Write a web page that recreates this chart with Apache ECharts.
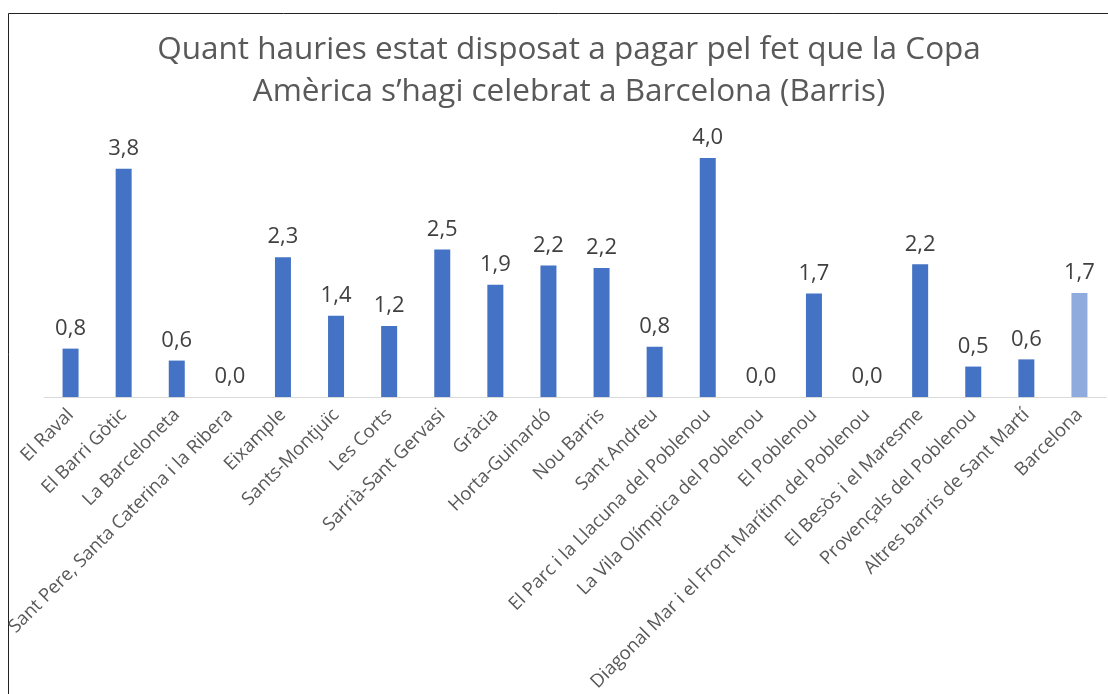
<!DOCTYPE html>
<html>
<head>
<meta charset="utf-8">
<script src="https://cdn.jsdelivr.net/npm/echarts@6/dist/echarts.min.js"></script>
<style>
html,body{margin:0;padding:0;background:#fff;}
#main{width:1108px;height:694px;}
</style>
</head>
<body>
<div id="main"></div>
<script>
var barris=["El Raval","El Barri Gòtic","La Barceloneta","Sant Pere, Santa Caterina i la Ribera","Eixample","Sants-Montjuïc","Les Corts","Sarrià-Sant Gervasi","Gràcia","Horta-Guinardó","Nou Barris","Sant Andreu","El Parc i la Llacuna del Poblenou","La Vila Olímpica del Poblenou","El Poblenou","Diagonal Mar i el Front Marítim del Poblenou","El Besòs i el Maresme","Provençals del Poblenou","Altres barris de Sant Martí","Barcelona"];
var valors=[0.81,3.82,0.61,0,2.34,1.36,1.19,2.47,1.88,2.2,2.16,0.84,4.0,0,1.73,0,2.22,0.51,0.63,1.74];

var seriesData=[];
for(var i=0;i<valors.length;i++){
    var item={value:valors[i]};
    if(barris[i]=="Barcelona"){
        item.itemStyle={color:'#8FAADC'};
    }
    seriesData.push(item);
}

var myChart=echarts.init(document.getElementById('main'));
var option={
    backgroundColor:'#fff',
    animation:false,
    title:{
        text:"Quant hauries estat disposat a pagar pel fet que la Copa\nAmèrica s’hagi celebrat a Barcelona (Barris)",
        left:564,
        textAlign:'center',
        top:24,
        textStyle:{
            fontFamily:'Open Sans',
            fontSize:31.5,
            fontWeight:'normal',
            color:'#595959',
            lineHeight:42
        }
    },
    graphic:[{
        type:'rect',
        shape:{x:8.5,y:13.5,width:1300,height:900},
        style:{fill:'none',stroke:'#222',lineWidth:1},
        silent:true
    }],
    grid:{left:44,right:2,top:134,bottom:293},
    xAxis:{
        type:'category',
        data:barris,
        axisLine:{lineStyle:{color:'#D9D9D9',width:1}},
        axisTick:{show:false},
        axisLabel:{
            interval:0,
            rotate:45,
            margin:15,
            fontFamily:'Open Sans',
            fontSize:18.5,
            color:'#595959'
        }
    },
    yAxis:{
        type:'value',
        min:0,
        max:4.4,
        show:false,
        splitLine:{show:false}
    },
    series:[{
        type:'bar',
        data:seriesData,
        barWidth:16,
        itemStyle:{color:'#4472C4'},
        label:{
            show:true,
            position:'top',
            distance:9,
            fontFamily:'Open Sans',
            fontSize:22,
            color:'#404040',
            formatter:function(p){
                return p.value.toFixed(1).replace('.',',');
            }
        }
    }]
};
myChart.setOption(option);
</script>
</body>
</html>
